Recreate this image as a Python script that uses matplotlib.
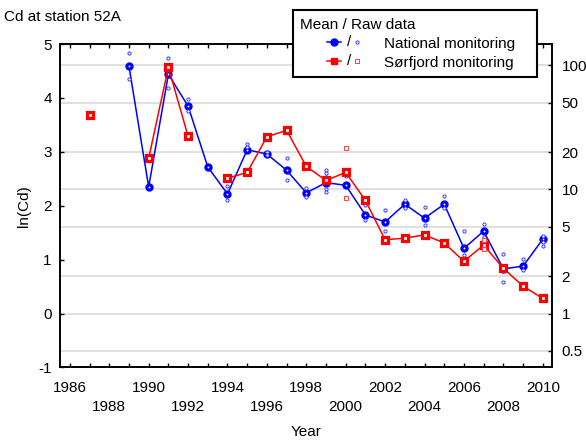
import matplotlib.pyplot as plt
import numpy as np
from matplotlib.lines import Line2D
from matplotlib.text import Text
from matplotlib.legend_handler import HandlerBase

plt.rcParams['font.family'] = ['Liberation Sans', 'DejaVu Sans']
plt.rcParams['font.size'] = 11
plt.rcParams['axes.unicode_minus'] = False

# mean values, ln(Cd)
nat_years = list(range(1989, 2011))
nat_mean = [4.59, 2.35, 4.44, 3.85, 2.72, 2.22, 3.04, 2.96, 2.66, 2.24, 2.43,
            2.38, 1.83, 1.70, 2.03, 1.77, 2.03, 1.21, 1.53, 0.83, 0.88, 1.38]

sor_years = list(range(1987, 2011))
sor_mean = [3.69, np.nan, np.nan, 2.88, 4.57, 3.29, np.nan, 2.51, 2.62, 3.28, 3.40,
            2.73, 2.47, 2.62, 2.10, 1.37, 1.40, 1.46, 1.31, 0.97, 1.27, 0.84, 0.51, 0.28]

# raw data points
nat_raw_years = [1989, 1989, 1991, 1991, 1992, 1992, 1994, 1994, 1995, 1995, 1996, 1996,
                 1997, 1997, 1998, 1998, 1999, 1999, 1999, 1999, 1999, 2000,
                 2001, 2001, 2002, 2002, 2003, 2003, 2004, 2004, 2005, 2005,
                 2006, 2006, 2007, 2007, 2008, 2008, 2009, 2009, 2010, 2010, 2010]
nat_raw = [4.83, 4.36, 4.74, 4.19, 3.99, 3.75, 2.37, 2.11, 3.14, 3.09, 3.00, 2.94,
           2.88, 2.48, 2.33, 2.16, 2.66, 2.60, 2.53, 2.32, 2.26, 2.55,
           2.01, 1.73, 1.93, 1.53, 2.11, 1.95, 1.97, 1.64, 2.18, 1.95,
           1.54, 1.09, 1.67, 1.42, 1.10, 0.59, 1.02, 0.81, 1.44, 1.32, 1.25]
sor_raw_years = [2000, 2000, 2007, 2007]
sor_raw = [3.08, 2.14, 1.36, 1.20]

conc_ticks = [0.5, 1, 2, 5, 10, 20, 50, 100]
conc_labels = ['0.5', '1', '2', '5', '10', '20', '50', '100']

blue = '#0000ff'
red = '#ff0000'


class MeanRawHandler(HandlerBase):
    # draws "line+marker / small raw marker" like the original legend
    def create_artists(self, legend, orig_handle, xdescent, ydescent,
                       width, height, fontsize, trans):
        col, mk, rawcol = orig_handle
        y = height / 2 - ydescent
        x0 = -xdescent
        ln = Line2D([x0 + 0.40 * width, x0 + 0.60 * width], [y, y], color=col, lw=1.1,
                    transform=trans)
        m = Line2D([x0 + 0.50 * width], [y], ls='none', marker=mk, ms=5, color=col,
                   transform=trans)
        sl = Text(x0 + 0.72 * width, y, '/', ha='center', va='center',
                  fontsize=fontsize, transform=trans)
        r = Line2D([x0 + 0.85 * width], [y], ls='none', marker=mk, ms=2.3, mfc='white',
                   mec=rawcol, mew=0.7, transform=trans)
        return [ln, m, sl, r]


fig = plt.figure(figsize=(5.86, 4.41), dpi=100)
ax = fig.add_axes([0.1024, 0.1667, 0.8396, 0.7333])

for c in conc_ticks:
    ax.axhline(np.log(c), color='#dddddd', lw=1.3, zorder=0)

ax.plot(nat_years, nat_mean, color=blue, lw=1.1, marker='o', ms=3.7,
        mfc='white', mec=blue, mew=2.3, zorder=3)
ax.plot(nat_raw_years, nat_raw, ls='none', marker='o', ms=2.3, mfc='white',
        mec='#3a3aff', mew=0.7, zorder=4)
ax.plot(sor_years, sor_mean, color=red, lw=1.1, marker='s', ms=3.7,
        mfc='white', mec=red, mew=2.3, zorder=5)
ax.plot(sor_raw_years, sor_raw, ls='none', marker='s', ms=2.3, mfc='white',
        mec='#ff3a3a', mew=0.7, zorder=6)

ax.set_xlim(1985.5, 2010.47)
ax.set_ylim(-1, 5)
xt = list(range(1986, 2011))
xl = []
for y in xt:
    if (y - 1986) % 4 == 0:
        xl.append(str(y))
    elif (y - 1986) % 4 == 2:
        xl.append('\n' + str(y))
    else:
        xl.append('')
ax.set_xticks(xt)
ax.set_xticklabels(xl, linespacing=1.45)
ax.set_yticks(range(-1, 6))
ax.tick_params(direction='in', length=3, width=1, top=True, labelsize=11)
ax.tick_params(axis='x', pad=10)
ax.tick_params(axis='y', pad=6)
ax.set_xlabel('Year', labelpad=8)
ax.set_ylabel('ln(Cd)', labelpad=5)

ax2 = ax.twinx()
ax2.set_ylim(-1, 5)
ax2.set_yticks(np.log(conc_ticks))
ax2.set_yticklabels(conc_labels)
ax2.tick_params(direction='in', length=3, width=1, labelsize=11, pad=7)

for a in (ax, ax2):
    for s in a.spines.values():
        s.set_linewidth(1.2)

fig.text(0.007, 0.962, 'Cd at station 52A', fontsize=11, va='center')

leg = fig.legend([(blue, 'o', '#3a3aff'), (red, 's', '#ff3a3a')],
                 ['National monitoring', 'Sørfjord monitoring'],
                 handler_map={tuple: MeanRawHandler()},
                 title='Mean / Raw data', title_fontsize=11, fontsize=11,
                 loc='upper left', bbox_to_anchor=(0.4995, 0.8277, 0.4164, 0.1497),
                 mode='expand', frameon=True, fancybox=False, edgecolor='k',
                 framealpha=1, handlelength=4.4, handletextpad=1.05, borderpad=0.5,
                 borderaxespad=0, labelspacing=0.33, alignment='left')
leg.get_frame().set_linewidth(1.5)

fig.savefig('out.png', dpi=100)
